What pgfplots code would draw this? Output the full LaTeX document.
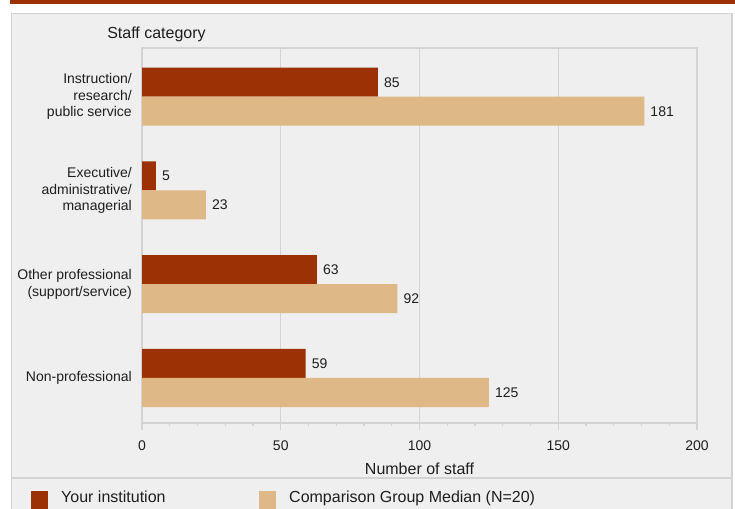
\documentclass[border=0pt]{standalone}
\usepackage{fontspec}
\setmainfont{Liberation Sans}
\usepackage{pgfplots}
\pgfplotsset{compat=1.18}

\definecolor{rust}{HTML}{9C3106}
\definecolor{sand}{HTML}{DFB887}
\definecolor{panel}{HTML}{EFEFEF}
\definecolor{rule}{HTML}{D3D3D3}
\definecolor{ink}{HTML}{1E1E1E}

\begin{document}
\begin{tikzpicture}[x=1pt,y=1pt]
\useasboundingbox (0,0) rectangle (735,508);
% header strip and panel
\fill[rust] (10,504) rectangle (736,509);
\filldraw[fill=panel,draw=rule,line width=1.5pt] (11.5,-5) rectangle (732,494.5);
\draw[rule,line width=1.5pt] (11.5,30) -- (732,30);
\node[anchor=base,font=\fontsize{16}{19}\selectfont,text=ink] at (156.5,469.5) {Staff category};

\begin{axis}[
  at={(142pt,85pt)}, anchor=south west,
  width=555pt, height=375pt, scale only axis,
  xbar, bar width=29pt,
  xmin=0, xmax=200, ymin=-0.48, ymax=3.52,
  xtick={0,50,...,200}, minor x tick num=4,
  ytick={0,1,2,3},
  yticklabels={Non-professional,{Other professional\\(support/service)},{Executive/\\administrative/\\managerial},{Instruction/\\research/\\public service}},
  xtick pos=bottom, ytick pos=left, tick align=outside,
  major tick length=7pt, minor tick length=3pt,
  tick style={draw=rule,line width=1.2pt},
  ytick style={draw=none},
  axis line style={draw=rule,line width=1.5pt},
  xmajorgrids, major grid style={draw=rule,line width=1.2pt},
  /pgf/number format/assume math mode=true,
  xticklabel style={font=\fontsize{14}{16}\selectfont,text=ink,yshift=-7pt},
  yticklabel style={font=\fontsize{14}{16.5}\selectfont,text=ink,align=right,inner sep=0pt,xshift=-3pt},
  xlabel={Number of staff},
  xlabel style={font=\fontsize{16}{19}\selectfont,text=ink,yshift=-6pt},
  nodes near coords,
  nodes near coords style={font=\fontsize{14}{16}\selectfont,text=ink,inner sep=0pt,xshift=6pt},
  legend columns=2,
  legend style={draw=none,fill=none,at={(-0.2,-0.18)},anchor=north west,
    inner sep=0pt,nodes={inner sep=0pt,font=\fontsize{16}{19}\selectfont,text=ink},
    /tikz/every odd column/.append style={column sep=13pt}},
  legend image code/.code={\fill[#1] (0pt,-12pt) rectangle (17pt,7pt);},
]
\addplot[fill=rust,draw=none,bar shift=14.5pt] coordinates {(85,3) (5,2) (63,1) (59,0)};
\addlegendentry{\makebox[198pt][l]{Your institution}}
\addplot[fill=sand,draw=none,bar shift=-14.5pt] coordinates {(181,3) (23,2) (92,1) (125,0)};
\addlegendentry{Comparison Group Median (N=20)}
\end{axis}
\end{tikzpicture}
\end{document}
